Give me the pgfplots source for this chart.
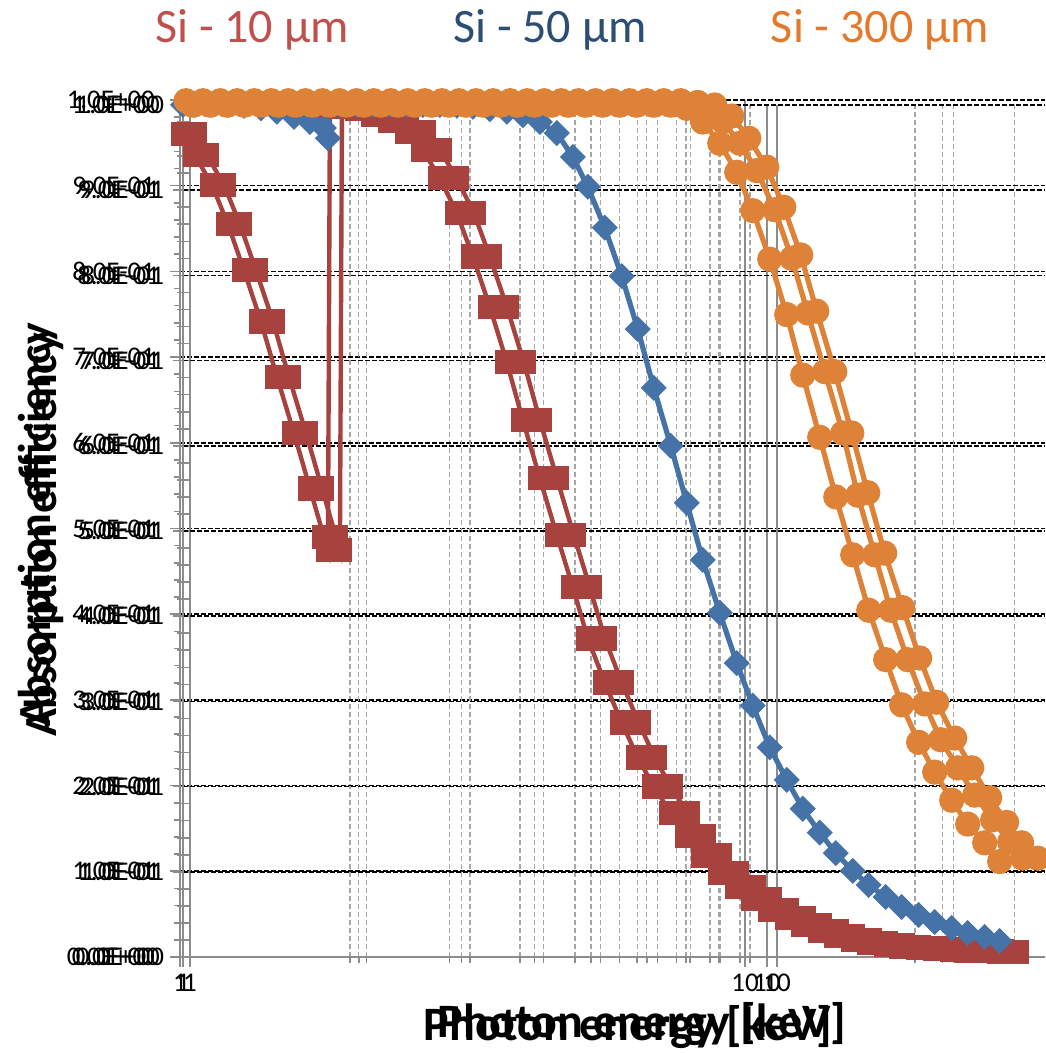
\documentclass[border=0pt]{standalone}
\usepackage{pgfplots}
\pgfplotsset{compat=1.18}
\usepackage{fontspec}
\setmainfont{Carlito}
\definecolor{reddata}{HTML}{A8423F}
\definecolor{bluedata}{HTML}{4572A7}
\definecolor{orangedata}{HTML}{DD8236}
\definecolor{redtitle}{HTML}{C0504D}
\definecolor{bluetitle}{HTML}{2C4D75}
\definecolor{orangetitle}{HTML}{E4792B}
\definecolor{axisgray}{HTML}{8C8C8C}
\definecolor{gridgray}{HTML}{A6A6A6}
\pgfplotsset{
  chartframe/.style={
    xmin=1, ymin=0, ymax=1,
    scale only axis, anchor=south west,
    axis x line*=bottom, axis y line*=left,
    axis line style={draw=axisgray, line width=1pt},
    xtick={1,10}, xticklabels={1,10},
    minor xtick={2,3,4,5,6,7,8,9,20,30},
    ytick={0,0.1,0.2,0.3,0.4,0.5,0.6,0.7,0.8,0.9,1},
    yticklabels={0.0E+00,1.0E-01,2.0E-01,3.0E-01,4.0E-01,5.0E-01,6.0E-01,7.0E-01,8.0E-01,9.0E-01,1.0E+00},
    minor y tick num=4,
    xmajorgrids=true, xminorgrids=true, ymajorgrids=true,
    major x grid style={draw=axisgray, line width=0.8pt},
    minor x grid style={draw=gridgray, line width=0.7pt, dash pattern=on 2.5pt off 1.5pt},
    major y grid style={draw=black, line width=0.8pt, dash pattern=on 2.5pt off 1pt},
    tick align=outside, major tick length=5pt, minor tick length=3pt,
    tick style={draw=axisgray, line width=0.8pt},
    tick label style={font=\fontsize{13.5}{15}\selectfont, text=black},
  },
}
\begin{document}
\begin{tikzpicture}
\path[use as bounding box] (0,0) rectangle (522.5pt,526.5pt);
% overlay chart A
\begin{semilogxaxis}[chartframe, at={(90pt,48pt)}, width=432.5pt, height=428.5pt, xmax=33.96,
  yticklabel style={anchor=east, xshift=-4pt}]
\end{semilogxaxis}
% overlay chart C
\begin{semilogxaxis}[chartframe, at={(95pt,48pt)}, width=427.5pt, height=426pt, xmax=28.61,
  yticklabel style={anchor=east, xshift=-6.5pt}]
\end{semilogxaxis}
% main chart with data
\begin{semilogxaxis}[chartframe, at={(91.5pt,48pt)}, width=431pt, height=426pt, xmax=29.97, clip=false,
  yticklabel style={anchor=east, xshift=-1pt}]
% Si 10 um, copy A
\addplot[reddata, line width=2.2pt, mark=square*, mark size=5pt, mark options={solid, fill=reddata, draw=reddata}] coordinates {
(1.0000,0.966) (1.0485,0.941) (1.1212,0.906) (1.1941,0.860) (1.2718,0.806) (1.3601,0.746) (1.4485,0.681) (1.5491,0.615) (1.6500,0.550) (1.7437,0.493) (1.7714,0.478) (1.7854,0.998) (1.8573,0.998) (1.9864,0.995) (2.1153,0.989) (2.2621,0.981) (2.4185,0.968) (2.5757,0.947) (2.7547,0.914) (2.9456,0.873) (3.1375,0.822) (3.3547,0.763) (3.5871,0.698) (3.8214,0.630) (4.0862,0.562) (4.3693,0.495) (4.6540,0.434) (4.9366,0.374) (5.2785,0.322) (5.6443,0.275) (6.0124,0.234) (6.4044,0.200) (6.8483,0.169) (7.2946,0.142) (7.7700,0.119) (8.3087,0.0986) (8.8845,0.0822) (9.4632,0.0681) (10.119,0.0552) (10.820,0.0458) (11.525,0.0376) (12.324,0.0305) (13.129,0.0246) (14.038,0.0200) (14.951,0.0164) (15.987,0.0141) (17.026,0.0117) (18.207,0.0106) (19.398,0.0094) (20.742,0.0082) (22.090,0.0070) (23.621,0.0070) (25.060,0.0059)
};
% Si 10 um, copy B
\addplot[reddata, line width=2.2pt, mark=square*, mark size=5pt, mark options={solid, fill=reddata, draw=reddata}] coordinates {
(1.0485,0.966) (1.0993,0.941) (1.1756,0.906) (1.2520,0.860) (1.3335,0.806) (1.4261,0.746) (1.5187,0.681) (1.6242,0.615) (1.7300,0.550) (1.8283,0.493) (1.8573,0.478) (1.8720,0.998) (1.9860,0.998) (2.1241,0.995) (2.2619,0.989) (2.4189,0.981) (2.5861,0.968) (2.7542,0.947) (2.9456,0.914) (3.1497,0.873) (3.3549,0.822) (3.5872,0.763) (3.8357,0.698) (4.0862,0.630) (4.3694,0.562) (4.6721,0.495) (4.9765,0.434) (5.2787,0.374) (5.6443,0.322) (6.0355,0.275) (6.4291,0.234) (6.8482,0.200) (7.3229,0.169) (7.8001,0.142) (8.3085,0.119) (8.8845,0.0986) (9.5002,0.0822) (10.119,0.0681) (10.820,0.0552) (11.570,0.0458) (12.324,0.0376) (13.178,0.0305) (14.039,0.0246) (15.011,0.0200) (15.987,0.0164) (17.095,0.0141) (18.206,0.0117) (19.469,0.0106) (20.742,0.0094) (22.179,0.0082) (23.621,0.0070) (25.258,0.0070) (26.797,0.0059)
};
% Si 50 um
\addplot[bluedata, line width=2.6pt, mark=square*, mark size=3.3pt, mark options={solid, rotate=45, fill=bluedata, draw=bluedata}] coordinates {
(1.0,1.0) (1.0485,1.0) (1.1212,1.0) (1.1941,1.0) (1.2718,0.999) (1.3601,0.996) (1.4485,0.992) (1.5491,0.986) (1.6500,0.980) (1.7437,0.973) (1.7714,0.961) (1.7854,1.0) (1.8573,1.0) (1.9864,1.0) (2.1153,1.0) (2.2621,1.0) (2.4185,1.0) (2.5757,1.0) (2.7547,1.0) (2.9456,0.999) (3.1375,0.998) (3.3547,0.995) (3.5871,0.992) (3.8214,0.988) (4.0862,0.980) (4.3693,0.967) (4.6540,0.939) (4.9366,0.904) (5.2785,0.856) (5.6443,0.799) (6.0124,0.737) (6.4044,0.668) (6.8483,0.600) (7.2946,0.533) (7.7700,0.466) (8.3087,0.404) (8.8845,0.345) (9.4632,0.295) (10.119,0.246) (10.820,0.208) (11.525,0.174) (12.324,0.146) (13.129,0.122) (14.038,0.101) (14.951,0.0845) (15.987,0.0704) (17.026,0.0587) (18.207,0.0493) (19.398,0.0411) (20.742,0.0340) (22.090,0.0282) (23.621,0.0235) (25.060,0.0188)
};
% Si 300 um, copy 1
\addplot[orangedata, line width=2.6pt, mark=*, mark size=5pt, mark options={solid, fill=orangedata, draw=orangedata}] coordinates {
(1.036,1) (1.108,1) (1.186,1) (1.268,1) (1.356,1) (1.451,1) (1.552,1) (1.660,1) (1.775,1) (1.899,1) (2.031,1) (2.172,1) (2.324,1) (2.485,1) (2.658,1) (2.843,1) (3.041,1) (3.253,1) (3.480,1) (3.722,1) (3.981,1) (4.258,1) (4.554,1) (4.871,1) (5.210,1) (5.573,1) (5.961,1) (6.376,1) (6.820,1) (7.2946,0.996) (7.7700,0.980) (8.3087,0.955) (8.8845,0.921) (9.4632,0.876) (10.119,0.819) (10.820,0.754) (11.525,0.683) (12.324,0.610) (13.129,0.540) (14.038,0.472) (14.951,0.407) (15.987,0.349) (17.026,0.296) (18.207,0.252) (19.398,0.217) (20.742,0.184) (22.090,0.156) (23.621,0.134) (25.060,0.112)
};
% Si 300 um, copy 2
\addplot[orangedata, line width=2.6pt, mark=*, mark size=5pt, mark options={solid, fill=orangedata, draw=orangedata}] coordinates {
(1.045,1) (1.117,1) (1.195,1) (1.278,1) (1.367,1) (1.462,1) (1.564,1) (1.673,1) (1.789,1) (1.914,1) (2.047,1) (2.190,1) (2.342,1) (2.505,1) (2.679,1) (2.866,1) (3.065,1) (3.279,1) (3.507,1) (3.751,1) (4.012,1) (4.291,1) (4.590,1) (4.909,1) (5.251,1) (5.617,1) (6.008,1) (6.426,1) (6.873,1) (7.351,1) (7.8626,0.996) (8.4078,0.981) (8.9903,0.955) (9.6134,0.923) (10.3204,0.877) (11.036,0.820) (11.752,0.756) (12.570,0.687) (13.497,0.615) (14.320,0.542) (15.308,0.472) (16.303,0.407) (17.436,0.349) (18.646,0.297) (19.862,0.255) (21.238,0.222) (22.712,0.190) (24.375,0.161) (26.068,0.135) (27.438,0.116)
};
% Si 300 um, copy 3
\addplot[orangedata, line width=2.6pt, mark=*, mark size=5pt, mark options={solid, fill=orangedata, draw=orangedata}] coordinates {
(1.012,1.005) (1.082,1.005) (1.158,1.005) (1.238,1.005) (1.325,1.005) (1.417,1.005) (1.515,1.005) (1.621,1.005) (1.734,1.005) (1.854,1.005) (1.983,1.005) (2.121,1.005) (2.269,1.005) (2.427,1.005) (2.596,1.005) (2.777,1.005) (2.970,1.005) (3.177,1.005) (3.398,1.005) (3.634,1.005) (3.887,1.005) (4.158,1.005) (4.447,1.005) (4.757,1.005) (5.088,1.005) (5.442,1.005) (5.821,1.005) (6.226,1.005) (6.659,1.005) (7.123,1.005) (7.6187,1.003) (8.1466,1.0) (8.7113,0.987) (9.3151,0.961) (10.0,0.927) (10.693,0.880) (11.434,0.824) (12.179,0.758) (13.077,0.687) (13.983,0.615) (14.893,0.545) (15.924,0.474) (17.093,0.410) (18.280,0.351) (19.551,0.299) (20.989,0.257) (22.445,0.222) (24.089,0.187) (25.758,0.158) (27.330,0.134) (29.110,0.116)
};
\end{semilogxaxis}
% titles
\node[text=redtitle, font=\fontsize{24}{28}\selectfont] at (126pt,511.5pt) {Si - 10 µm};
\node[text=bluetitle, font=\fontsize{24}{28}\selectfont] at (275pt,511.5pt) {Si - 50 µm};
\node[text=orangetitle, font=\fontsize{24}{28}\selectfont] at (440pt,511.5pt) {Si - 300 µm};
% axis labels (overprinted)
\node[rotate=90, font=\bfseries\fontsize{23}{27}\selectfont] at (19pt,264pt) {Absorption efficiency};
\node[rotate=90, font=\bfseries\fontsize{23}{27}\selectfont] at (22pt,259pt) {Absorption efficiency};
\node[font=\bfseries\fontsize{24}{28}\selectfont] at (314pt,13pt) {Photon energy [keV]};
\node[font=\bfseries\fontsize{24}{28}\selectfont] at (321pt,14.5pt) {Photon energy [keV]};
\end{tikzpicture}
\end{document}
